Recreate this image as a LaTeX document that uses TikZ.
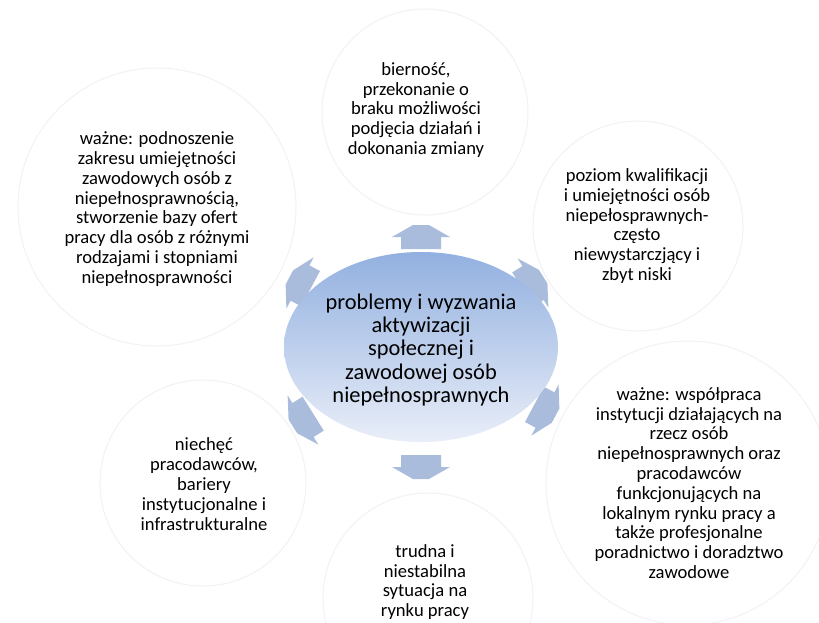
\documentclass[tikz,border=0pt]{standalone}
\usepackage{fontspec}
\setmainfont{Carlito}
\usetikzlibrary{shapes.geometric}
\definecolor{ringc}{RGB}{240,242,247}
\definecolor{arrc}{RGB}{170,188,220}
\definecolor{elltop}{RGB}{146,176,224}
\definecolor{ellbot}{RGB}{233,238,248}
\tikzset{
  bubble/.style={circle, draw=ringc, line width=1pt, fill=white, inner sep=0pt},
  txt/.style={align=center, inner sep=0pt, text=black, font=\fontsize{18.6}{19.8}\selectfont},
  midtxt/.style={align=center, inner sep=0pt, text=black, font=\fontsize{22.4}{23.4}\selectfont},
  blockarrow/.pic={\fill[arrc] (-12,-20) -- (0,-20) -- (0,-29) -- (12,-8) -- (12,8) -- (0,29) -- (0,20) -- (-12,20) -- cycle;}
}
\begin{document}
\begin{tikzpicture}[x=1pt,y=-1pt]
\useasboundingbox (0,0) rectangle (819,622);
\clip (0,0) rectangle (819,622);
\fill[white] (0,0) rectangle (819,622);
% outer circles
\node[bubble, minimum size=206pt] (ctop) at (425,112) {};
\node[bubble, minimum size=278pt] (ctl) at (157,207) {};
\node[bubble, minimum size=210pt] (ctr) at (638,226) {};
\node[bubble, minimum size=284pt] (cbr) at (688,483) {};
\node[bubble, minimum size=206pt] (cbl) at (203,483) {};
\node[bubble, minimum size=210pt] (cbot) at (428,598) {};
% texts
\node[txt] (ttop) at (416,110) {bierność,\\przekonanie o\\braku możliwości\\podjęcia działań i\\dokonania zmiany};
\node[txt] (ttl) at (157,209) {ważne: podnoszenie\\zakresu umiejętności\\zawodowych osób z\\niepełnosprawnością,\\stworzenie bazy ofert\\pracy dla osób z różnymi\\rodzajami i stopniami\\niepełnosprawności};
\node[txt] (ttr) at (637,226) {poziom kwalifikacji\\i umiejętności osób\\niepełosprawnych-\\często\\niewystarczjący i\\zbyt niski};
\node[txt] (tbr) at (689,483) {ważne: współpraca\\instytucji działających na\\rzecz osób\\niepełnosprawnych oraz\\pracodawców\\funkcjonujących na\\lokalnym rynku pracy a\\także profesjonalne\\poradnictwo i doradztwo\\zawodowe};
\node[txt] (tbl) at (204,484) {niechęć\\pracodawców,\\bariery\\instytucjonalne i\\infrastrukturalne};
\node[txt] (tbot) at (425,582) {trudna i\\niestabilna\\sytuacja na\\rynku pracy};
% arrows
\pic[rotate=90] at (421,237) {blockarrow};
\pic[rotate=32] at (533,283) {blockarrow};
\pic[rotate=-28] at (545,410) {blockarrow};
\pic[rotate=-90] at (421,467) {blockarrow};
\pic[rotate=-148] at (303,420) {blockarrow};
\pic[rotate=152] at (300,283) {blockarrow};
% centre ellipse
\node[ellipse, minimum width=274pt, minimum height=190pt, inner sep=0pt, top color=elltop, bottom color=ellbot, draw=none] (centre) at (421,347) {};
\node[midtxt] (tcentre) at (421,350) {problemy i wyzwania\\aktywizacji\\społecznej i\\zawodowej osób\\niepełnosprawnych};
\end{tikzpicture}
\end{document}
